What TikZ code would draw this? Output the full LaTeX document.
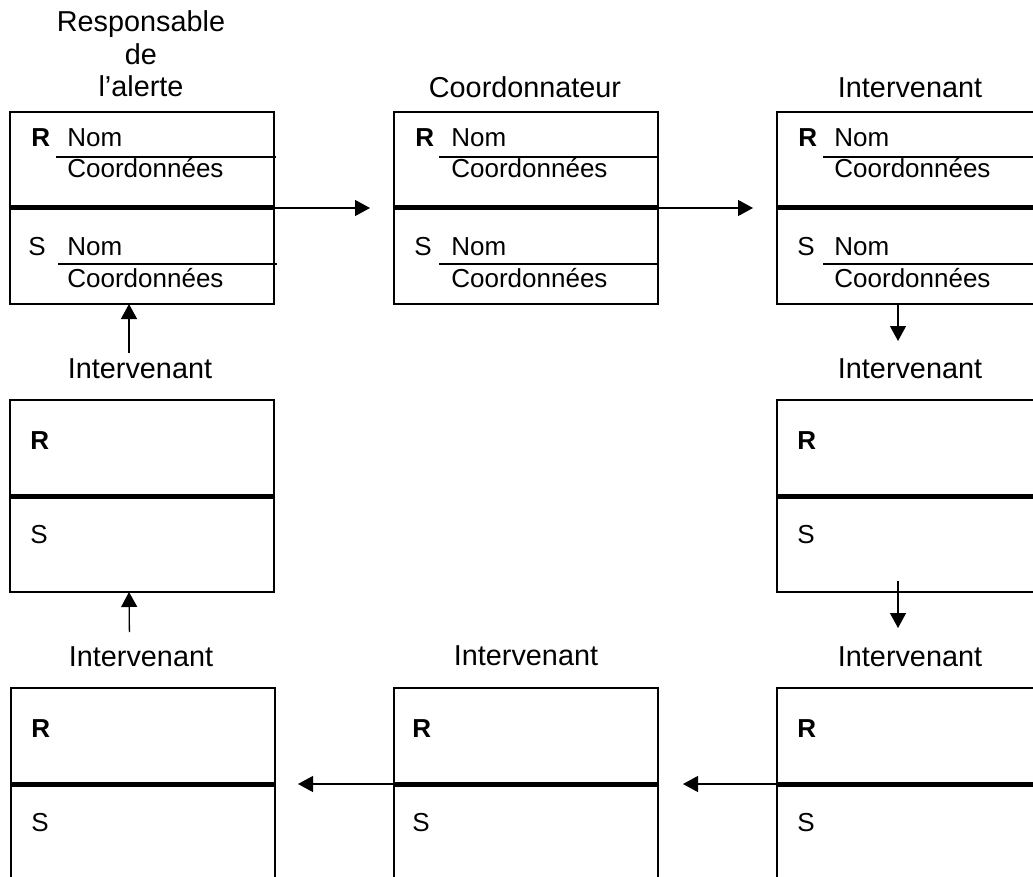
\documentclass[tikz,border=0pt]{standalone}
\usepackage{fontspec}
\setmainfont{Liberation Sans}
\usetikzlibrary{arrows.meta}

\tikzset{
  fiche/.style={draw, rectangle, line width=1pt, minimum width=132pt, minimum height=96pt, inner sep=0pt, outer sep=0pt},
  barre/.style={line width=2.5pt},
  trait/.style={line width=0.65pt},
  fleche/.style={line width=0.65pt, -{Triangle[length=7.5pt,width=8pt]}},
  titre/.style={font=\fontsize{14.4}{16.3}\selectfont, align=center, inner sep=0pt, anchor=base},
  champ/.style={font=\fontsize{13}{15}\selectfont, inner sep=0pt, anchor=base west}
}

\begin{document}
\begin{tikzpicture} [x=0.5pt, y=-0.5pt]
\useasboundingbox (0,0) rectangle (1033,877);
\clip (0,0) rectangle (1033,877);

% boites
\node [fiche] (resp) at (142,208) {};
\node [fiche] (coord) at (526,208) {};
\node [fiche] (interA) at (909,208) {};
\node [fiche] (interB) at (909,496) {};
\node [fiche] (interC) at (909,784) {};
\node [fiche] (interD) at (526,784) {};
\node [fiche] (interE) at (143,784) {};
\node [fiche] (interF) at (142,496) {};
\draw [barre] (resp.west) -- (resp.east);
\draw [barre] (coord.west) -- (coord.east);
\draw [barre] (interA.west) -- (interA.east);
\draw [barre] (interB.west) -- (interB.east);
\draw [barre] (interC.west) -- (interC.east);
\draw [barre] (interD.west) -- (interD.east);
\draw [barre] (interE.west) -- (interE.east);
\draw [barre] (interF.west) -- (interF.east);

% titres
\node [titre] (t-resp) at (141,97) {Responsable\\de\\l’alerte};
\node [titre] (t-coord) at (525,98) {Coordonnateur};
\node [titre] (t-interA) at (910,98) {Intervenant};
\node [titre] (t-interB) at (910,378) {Intervenant};
\node [titre] (t-interC) at (910,666) {Intervenant};
\node [titre] (t-interD) at (526,665) {Intervenant};
\node [titre] (t-interE) at (141,666) {Intervenant};
\node [titre] (t-interF) at (140,378) {Intervenant};

% champs R / S avec nom
\node [champ] (resp-r) at ([shift={(21,35)}]resp.north west) {\textbf{R}};
\node [champ] (resp-nom1) at ([shift={(57,35)}]resp.north west) {Nom};
\draw [trait] ([shift={(46,45)}]resp.north west) -- ([shift={(266,45)}]resp.north west);
\node [champ] (resp-coord1) at ([shift={(57,66)}]resp.north west) {Coordonnées};
\node [champ] (resp-s) at ([shift={(18,144)}]resp.north west) {S};
\node [champ] (resp-nom2) at ([shift={(57,144)}]resp.north west) {Nom};
\draw [trait] ([shift={(48,152)}]resp.north west) -- ([shift={(267,152)}]resp.north west);
\node [champ] (resp-coord2) at ([shift={(57,175)}]resp.north west) {Coordonnées};

\node [champ] (coord-r) at ([shift={(21,35)}]coord.north west) {\textbf{R}};
\node [champ] (coord-nom1) at ([shift={(57,35)}]coord.north west) {Nom};
\draw [trait] ([shift={(45,45)}]coord.north west) -- ([shift={(264,45)}]coord.north west);
\node [champ] (coord-coord1) at ([shift={(57,66)}]coord.north west) {Coordonnées};
\node [champ] (coord-s) at ([shift={(20,144)}]coord.north west) {S};
\node [champ] (coord-nom2) at ([shift={(57,144)}]coord.north west) {Nom};
\draw [trait] ([shift={(45,152)}]coord.north west) -- ([shift={(264,152)}]coord.north west);
\node [champ] (coord-coord2) at ([shift={(57,175)}]coord.north west) {Coordonnées};

\node [champ] (interA-r) at ([shift={(21,35)}]interA.north west) {\textbf{R}};
\node [champ] (interA-nom1) at ([shift={(57,35)}]interA.north west) {Nom};
\draw [trait] ([shift={(46,45)}]interA.north west) -- ([shift={(266,45)}]interA.north west);
\node [champ] (interA-coord1) at ([shift={(57,66)}]interA.north west) {Coordonnées};
\node [champ] (interA-s) at ([shift={(20,144)}]interA.north west) {S};
\node [champ] (interA-nom2) at ([shift={(57,144)}]interA.north west) {Nom};
\draw [trait] ([shift={(46,152)}]interA.north west) -- ([shift={(266,152)}]interA.north west);
\node [champ] (interA-coord2) at ([shift={(57,175)}]interA.north west) {Coordonnées};

% champs R / S vides
\node [champ] (interB-r) at ([shift={(20,49)}]interB.north west) {\textbf{R}};
\node [champ] (interB-s) at ([shift={(20,143)}]interB.north west) {S};
\node [champ] (interC-r) at ([shift={(20,49)}]interC.north west) {\textbf{R}};
\node [champ] (interC-s) at ([shift={(20,143)}]interC.north west) {S};
\node [champ] (interD-r) at ([shift={(18,49)}]interD.north west) {\textbf{R}};
\node [champ] (interD-s) at ([shift={(18,143)}]interD.north west) {S};
\node [champ] (interE-r) at ([shift={(20,49)}]interE.north west) {\textbf{R}};
\node [champ] (interE-s) at ([shift={(20,143)}]interE.north west) {S};
\node [champ] (interF-r) at ([shift={(20,49)}]interF.north west) {\textbf{R}};
\node [champ] (interF-s) at ([shift={(20,143)}]interF.north west) {S};

% fleches
\draw [fleche, shorten >=12pt] (resp.east) -- (coord.west);
\draw [fleche, shorten >=12pt] (coord.east) -- (interA.west);
\draw [fleche, shorten >=29.5pt] ([xshift=-5.5pt]interA.south) -- ([xshift=-5.5pt]interB.north);
\draw [fleche, shorten <=-5.5pt, shorten >=30pt] ([xshift=-5.5pt]interB.south) -- ([xshift=-5.5pt]interC.north);
\draw [fleche, shorten >=12.5pt] (interC.west) -- (interD.east);
\draw [fleche, shorten >=11.5pt] (interD.west) -- (interE.east);
\draw [fleche, shorten <=28pt] ([xshift=-6.5pt]interE.north) -- ([xshift=-6.5pt]interF.south);
\draw [fleche, shorten <=23.5pt] ([xshift=-6.5pt]interF.north) -- ([xshift=-6.5pt]resp.south);
\end{tikzpicture}
\end{document}
